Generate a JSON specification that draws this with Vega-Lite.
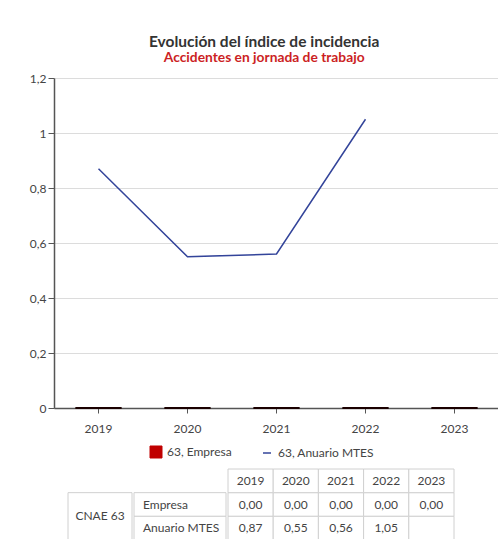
{
  "$schema": "https://vega.github.io/schema/vega-lite/v6.json",
  "background": "white",
  "padding": {"top": 34, "left": 29, "right": 0, "bottom": 0},
  "config": {
    "locale": {"number": {"decimal": ",", "thousands": ".", "grouping": [3], "currency": ["", " €"]}},
    "font": "Lato",
    "view": {"stroke": null}
  },
  "datasets": {
    "datos": [
      {"anio": "2019", "serie": "63, Empresa", "fila": "Empresa", "valor": 0},
      {"anio": "2020", "serie": "63, Empresa", "fila": "Empresa", "valor": 0},
      {"anio": "2021", "serie": "63, Empresa", "fila": "Empresa", "valor": 0},
      {"anio": "2022", "serie": "63, Empresa", "fila": "Empresa", "valor": 0},
      {"anio": "2023", "serie": "63, Empresa", "fila": "Empresa", "valor": 0},
      {"anio": "2019", "serie": "63, Anuario MTES", "fila": "Anuario MTES", "valor": 0.87},
      {"anio": "2020", "serie": "63, Anuario MTES", "fila": "Anuario MTES", "valor": 0.55},
      {"anio": "2021", "serie": "63, Anuario MTES", "fila": "Anuario MTES", "valor": 0.56},
      {"anio": "2022", "serie": "63, Anuario MTES", "fila": "Anuario MTES", "valor": 1.05},
      {"anio": "2023", "serie": "63, Anuario MTES", "fila": "Anuario MTES", "valor": null}
    ],
    "grupo": [{"grupo": "CNAE 63"}]
  },
  "center": true,
  "spacing": 34,
  "vconcat": [
    {
      "width": 445,
      "height": 330,
      "title": {
        "text": "Evolución del índice de incidencia",
        "subtitle": "Accidentes en jornada de trabajo",
        "fontSize": 15.5,
        "fontWeight": "bold",
        "color": "#333333",
        "subtitleColor": "#cc1f24",
        "subtitleFontSize": 13.8,
        "subtitleFontWeight": "bold",
        "subtitlePadding": 1,
        "anchor": "middle",
        "frame": "bounds",
        "offset": 7
      },
      "data": {"name": "datos"},
      "encoding": {
        "x": {
          "field": "anio", "type": "ordinal",
          "scale": {"paddingInner": 0, "paddingOuter": 0},
          "axis": {"title": null, "labelAngle": 0, "labelFontSize": 12, "labelColor": "#444444", "tickColor": "#555555", "tickSize": 5, "domainColor": "#555555", "domainWidth": 1.5, "labelPadding": 10, "grid": false}
        },
        "y": {
          "field": "valor", "type": "quantitative",
          "scale": {"domain": [0, 1.2], "nice": false},
          "axis": {"title": null, "values": [0, 0.2, 0.4, 0.6, 0.8, 1, 1.2], "format": "~g", "labelFontSize": 12, "labelColor": "#444444", "tickColor": "#555555", "tickSize": 6, "domainColor": "#555555", "domainWidth": 1.5, "gridColor": "#dcdcdc", "labelPadding": 2}
        },
        "color": {
          "field": "serie", "type": "nominal",
          "scale": {"domain": ["63, Empresa", "63, Anuario MTES"], "range": ["#c00000", "#33449a"]},
          "legend": {
            "title": null,
            "orient": "none",
            "direction": "horizontal",
            "legendX": 96,
            "legendY": 368,
            "labelFontSize": 12,
            "labelColor": "#444444",
            "symbolSize": 144,
            "labelOffset": 5,
            "columnPadding": 28,
            "encode": {
              "symbols": {
                "update": {
                  "shape": {"signal": "datum.value === '63, Empresa' ? 'square' : 'stroke'"},
                  "fill": {"signal": "datum.value === '63, Empresa' ? '#c00000' : 'transparent'"},
                  "stroke": {"signal": "datum.value === '63, Empresa' ? '#5c0000' : '#33449a'"},
                  "strokeWidth": {"signal": "datum.value === '63, Empresa' ? 1 : 1.5"},
                  "size": {"signal": "datum.value === '63, Empresa' ? 144 : 64"},
                  "opacity": {"value": 1}
                }
              }
            }
          }
        }
      },
      "layer": [
        {
          "transform": [{"filter": "datum.serie === '63, Empresa'"}],
          "mark": {"type": "bar", "width": {"band": 0.52}, "stroke": "#1a0000", "strokeWidth": 2, "opacity": 1}
        },
        {
          "transform": [{"filter": "datum.serie === '63, Anuario MTES' && datum.valor != null"}],
          "mark": {"type": "line", "strokeWidth": 1.5}
        }
      ]
    },
    {
      "spacing": 0,
      "hconcat": [
        {
          "width": 64,
          "height": 71,
          "data": {"name": "grupo"},
          "encoding": {
            "x": {"field": "grupo", "type": "nominal", "scale": {"paddingInner": 0, "paddingOuter": 0}, "axis": null},
            "y": {"field": "grupo", "type": "nominal", "scale": {"paddingInner": 0, "paddingOuter": 0.25, "align": 1}, "axis": null}
          },
          "layer": [
            {"mark": {"type": "rect", "fill": "white", "stroke": "#d0d0d0", "strokeWidth": 1}},
            {"mark": {"type": "text", "fontSize": 12, "color": "#444444"}, "encoding": {"text": {"field": "grupo"}}}
          ]
        },
        {
          "width": 92,
          "height": 71,
          "data": {"name": "datos"},
          "transform": [{"filter": "datum.anio === '2019'"}],
          "encoding": {
            "y": {"field": "fila", "type": "nominal", "scale": {"domain": ["cab", "Empresa", "Anuario MTES"], "paddingInner": 0, "paddingOuter": 0}, "axis": null}
          },
          "layer": [
            {"mark": {"type": "rect", "fill": "white", "stroke": "#d0d0d0", "strokeWidth": 1}},
            {"mark": {"type": "text", "align": "left", "dx": -37, "fontSize": 12, "color": "#444444"}, "encoding": {"text": {"field": "fila"}}}
          ]
        },
        {
          "width": 226,
          "height": 71,
          "data": {"name": "datos"},
          "encoding": {
            "x": {"field": "anio", "type": "ordinal", "scale": {"paddingInner": 0, "paddingOuter": 0}, "axis": null}
          },
          "layer": [
            {
              "mark": {"type": "rect", "fill": "white", "stroke": "#d0d0d0", "strokeWidth": 1},
              "encoding": {"y": {"field": "fila", "type": "nominal", "scale": {"domain": ["cab", "Empresa", "Anuario MTES"], "paddingInner": 0, "paddingOuter": 0}, "axis": null}}
            },
            {
              "transform": [{"filter": "datum.fila === 'Empresa'"}],
              "mark": {"type": "rect", "fill": "white", "stroke": "#d0d0d0", "strokeWidth": 1},
              "encoding": {"y": {"datum": "cab", "type": "nominal"}}
            },
            {
              "transform": [{"filter": "datum.valor != null"}],
              "mark": {"type": "text", "fontSize": 12, "color": "#444444"},
              "encoding": {"y": {"field": "fila", "type": "nominal"}, "text": {"field": "valor", "type": "quantitative", "format": ".2f"}}
            },
            {
              "transform": [{"filter": "datum.fila === 'Empresa'"}],
              "mark": {"type": "text", "fontSize": 12, "color": "#444444"},
              "encoding": {"y": {"datum": "cab", "type": "nominal"}, "text": {"field": "anio"}}
            }
          ]
        },
        {
          "width": 30,
          "height": 71,
          "data": {"name": "grupo"},
          "mark": {"type": "rect", "opacity": 0},
          "encoding": {
            "x": {"field": "grupo", "type": "nominal", "scale": {"paddingInner": 0, "paddingOuter": 0}, "axis": null},
            "y": {"field": "grupo", "type": "nominal", "scale": {"paddingInner": 0, "paddingOuter": 0}, "axis": null}
          }
        }
      ]
    }
  ]
}
